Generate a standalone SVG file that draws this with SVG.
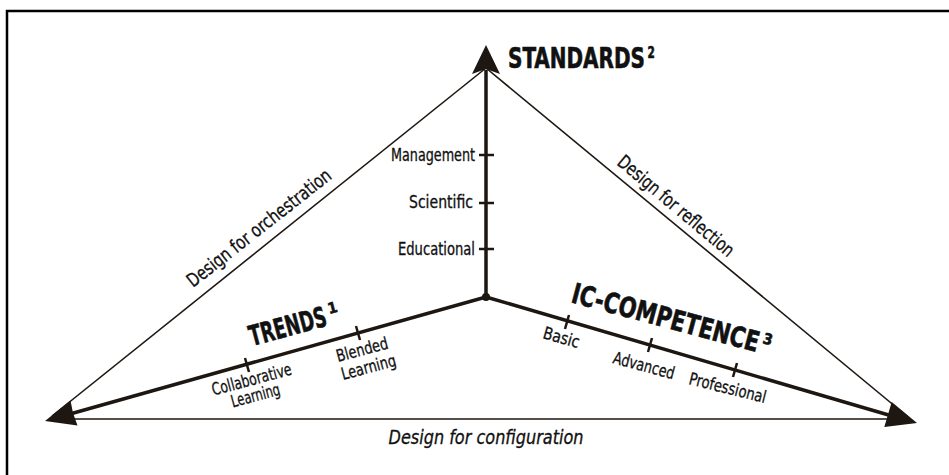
<svg xmlns="http://www.w3.org/2000/svg" width="949" height="475" viewBox="0 0 949 475">
<style>
.t{font-family:'DejaVu Sans Condensed','Liberation Sans Narrow','Liberation Sans',sans-serif;font-stretch:condensed;fill:#111;stroke:#111;stroke-width:0.3;}
.h{font-weight:bold;font-size:28px;stroke-width:0.6;}
.sup{font-weight:bold;font-size:15px;}
.s{font-size:17px;}
.m{font-size:17px;}
.d{font-size:19px;}
.thin{stroke:#1e1610;stroke-width:1.6;fill:none;}
.thick{stroke:#1e1610;stroke-width:3.5;fill:none;}
.tick{stroke:#1e1610;stroke-width:2.5;}
.ah{fill:#1e1610;}
</style>
<rect width="949" height="475" fill="#fff"/>
<g id="frame">
<path d="M7 475 V11 H949" fill="none" stroke="#000" stroke-width="2.5"/>
</g>
<g id="connectors">
<line class="thin" x1="486" y1="68" x2="52" y2="416"/>
<line class="thin" x1="486" y1="68" x2="908" y2="417"/>
<line class="thin" x1="60" y1="419" x2="900" y2="419"/>
<line class="thick" x1="486" y1="297" x2="486" y2="70"/>
<line class="thick" x1="486" y1="297" x2="70" y2="414"/>
<line class="thick" x1="486" y1="297" x2="892" y2="416"/>
<polygon class="ah" points="486,45 500,74 486,69 472,74"/>
<polygon class="ah" points="45,421 70.5,400.5 73,413 77.5,425.5"/>
<polygon class="ah" points="917,423 891.7,402 888,414.6 884.3,427"/>
<circle class="ah" cx="486" cy="297" r="4"/>
</g>
<g id="standards">
<text class="t h" transform="translate(508,68) scale(0.78,1)"><tspan textLength="175.6" lengthAdjust="spacingAndGlyphs">STANDARDS</tspan><tspan class="sup" x="179" y="-10">2</tspan></text>
<line class="tick" x1="479" y1="155" x2="494" y2="155"/>
<line class="tick" x1="479" y1="203" x2="494" y2="203"/>
<line class="tick" x1="479" y1="249" x2="494" y2="249"/>
<text class="t m" x="475" y="161" text-anchor="end" textLength="84" lengthAdjust="spacingAndGlyphs">Management</text>
<text class="t m" x="473" y="208" text-anchor="end" textLength="64" lengthAdjust="spacingAndGlyphs">Scientific</text>
<text class="t m" x="475" y="255" text-anchor="end" textLength="77" lengthAdjust="spacingAndGlyphs">Educational</text>
</g>
<g id="trends">
<text class="t h" transform="translate(252,346) rotate(-15)"><tspan textLength="79" lengthAdjust="spacingAndGlyphs">TRENDS</tspan><tspan class="sup" x="83" y="-11">1</tspan></text>
<line class="tick" x1="356" y1="326" x2="360" y2="340"/>
<line class="tick" x1="245" y1="358" x2="249" y2="372"/>
<text class="t s" transform="translate(338,362) rotate(-15)" textLength="53" lengthAdjust="spacingAndGlyphs">Blended</text>
<text class="t s" transform="translate(343,380) rotate(-15)" textLength="56" lengthAdjust="spacingAndGlyphs">Learning</text>
<text class="t s" text-anchor="middle" transform="translate(253,385) rotate(-15)" textLength="82" lengthAdjust="spacingAndGlyphs">Collaborative</text>
<text class="t s" text-anchor="middle" transform="translate(257,401) rotate(-15)" textLength="50" lengthAdjust="spacingAndGlyphs">Learning</text>
</g>
<g id="competence">
<text class="t h" transform="translate(570,302) rotate(15)"><tspan textLength="193" lengthAdjust="spacingAndGlyphs">IC-COMPETENCE</tspan><tspan class="sup" x="196" y="-10">3</tspan></text>
<line class="tick" x1="569" y1="315" x2="565" y2="329"/>
<line class="tick" x1="652" y1="338" x2="648" y2="352"/>
<line class="tick" x1="737" y1="363" x2="733" y2="377"/>
<text class="t s" transform="translate(542,338) rotate(16)" textLength="37" lengthAdjust="spacingAndGlyphs">Basic</text>
<text class="t s" transform="translate(612,363) rotate(15)" textLength="63" lengthAdjust="spacingAndGlyphs">Advanced</text>
<text class="t s" transform="translate(688,384) rotate(14)" textLength="79" lengthAdjust="spacingAndGlyphs">Professional</text>
</g>
<g id="edge-labels">
<text class="t d" transform="translate(193,288) rotate(-38.2)" textLength="178" lengthAdjust="spacingAndGlyphs">Design for orchestration</text>
<text class="t d" transform="translate(616,164) rotate(40)" textLength="146" lengthAdjust="spacingAndGlyphs">Design for reflection</text>
<text class="t d" x="486" y="444" text-anchor="middle" font-style="italic" textLength="195" lengthAdjust="spacingAndGlyphs">Design for configuration</text>
</g>
</svg>
